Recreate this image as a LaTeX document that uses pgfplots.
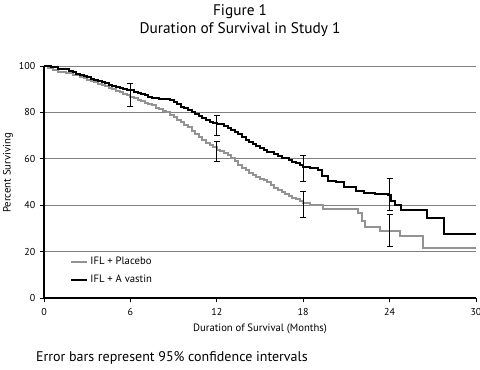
\documentclass[border=0pt]{standalone}
\usepackage{pgfplots}
\pgfplotsset{compat=1.18}
\usepackage{fontspec}
\setmainfont{PT Sans}
\begin{document}
\begin{tikzpicture}
\useasboundingbox (-33pt,-53.25pt) rectangle (327pt,223.5pt);
\begin{axis}[
  at={(0pt,0pt)}, anchor=south west,
  scale only axis, width=324pt, height=174pt,
  xmin=0, xmax=30, ymin=0, ymax=100,
  xtick={0,6,12,18,24,30}, ytick={0,20,40,60,80,100},
  axis lines=left, axis line style={-, line width=0.9pt, black},
  tick align=outside, tick style={black, line width=0.7pt},
  major tick length=3pt,
  ymajorgrids, grid style={gray, line width=0.6pt},
  tick label style={font=\fontsize{7.5}{9}\selectfont},
  xticklabel style={yshift=-1.5pt},
  /pgf/number format/assume math mode=true,
  clip=false,
  legend style={at={(0.05,0.2)}, anchor=north west, draw=none, fill=none,
    font=\fontsize{8}{10}\selectfont, row sep=2pt},
  legend cell align=left,
  legend image code/.code={\draw[#1] (0cm,0cm) -- (0.42cm,0cm);},
]
\addplot[const plot, gray!85, line width=1.5pt] coordinates {
(0,100)(0.3,99.3)(0.6,98.3)(1.0,97.5)(1.5,96.9)(2.0,96.2)(2.5,95.4)(2.75,94.7)(3.0,94)(3.25,93.5)(3.5,93)(3.75,92.4)(4.0,91.8)(4.25,91.2)(4.5,90.5)(4.75,89.9)(5.0,89.2)(5.25,88.6)(5.5,88)(5.75,87.4)(6.0,86.8)(6.25,86.1)(6.5,85.5)(6.75,84.8)(7.0,84.2)(7.25,83.6)(7.5,83)(7.75,82.1)(8.0,81.3)(8.25,80.6)(8.5,80)(8.75,79)(9.0,78)(9.25,76.9)(9.5,75.8)(9.75,74.6)(10.0,73.5)(10.25,72)(10.5,70.5)(10.75,69.2)(11.0,68)(11.25,67)(11.5,66)(11.75,65)(12.0,64)(12.25,63.2)(12.5,62.5)(12.75,61.5)(13.0,60.5)(13.25,59)(13.5,57.5)(13.75,56.2)(14.0,55)(14.25,54)(14.5,53)(14.75,52.2)(15.0,51.5)(15.25,50.7)(15.5,50)(15.75,48.7)(16.0,47.5)(16.25,46.5)(16.5,45.5)(16.75,44.7)(17.0,44)(17.25,43.2)(17.5,42.5)(17.75,41.7)(18.0,41)(18.5,40)(19.4,38.4)(21.8,36.5)(22.1,33)(22.3,30.7)(23.3,29)(24.7,26.7)(26.3,21.4)(30,21.4)};
\addlegendentry{IFL + Placebo}
\addplot[const plot, black, line width=1.5pt] coordinates {
(0,100)(0.5,99.5)(1.0,98.8)(1.5,98.5)(1.75,97.8)(2.0,97.2)(2.25,96.7)(2.5,96.2)(2.75,95.7)(3.0,95.2)(3.25,94.6)(3.5,94)(3.75,93.5)(4.0,93)(4.25,92.5)(4.5,92)(4.75,91.5)(5.0,91)(5.25,90.6)(5.5,90.2)(5.75,89.8)(6.0,89.5)(6.25,89)(6.5,88.5)(6.75,87.9)(7.0,87.3)(7.25,86.7)(7.5,86.2)(8.0,85.6)(8.75,85.5)(9.0,84.6)(9.25,83.5)(9.5,82.5)(9.75,81.7)(10.0,81)(10.25,80.2)(10.5,79.5)(10.75,78.5)(11.0,77.5)(11.25,76.7)(11.5,76)(11.75,75.4)(12.0,74.8)(12.5,74)(12.75,73.2)(13.0,72.5)(13.25,71.5)(13.5,70.5)(13.75,69.2)(14.0,68)(14.25,67.2)(14.5,66.5)(14.75,65.5)(15.0,64.5)(15.25,63.7)(15.5,63)(16.0,62)(16.25,61.2)(16.5,60.5)(17.0,59.5)(17.25,58.7)(17.5,58)(17.75,57.2)(18.0,56.5)(18.5,56)(19.0,55)(19.3,52.5)(19.7,50.5)(20.3,49.8)(20.8,48)(21.7,46.3)(22.2,45.2)(23.0,45)(23.9,44.2)(24.1,42)(24.4,40)(24.8,38)(26.6,34.5)(27.8,27.4)(30,27.4)};
\addlegendentry{IFL + A vastin}
\addplot[draw=none, mark=none, forget plot,
  error bars/.cd, y dir=both, y explicit,
  error bar style={black, line width=0.6pt},
  error mark options={rotate=90, mark size=2.2pt, black, line width=0.6pt}]
  coordinates {
  (6,87.6) +- (0,5.1)
  (12,74.5) +- (0,4.35)
  (18,56) +- (0,5.6)
  (24,44.75) +- (0,6.85)
  (12,63.35) +- (0,4.35)
  (18,40.3) +- (0,5.5)
  (24,29.2) +- (0,6.9)
};
\end{axis}
\node[font=\fontsize{11.5}{13}\selectfont] at (147pt,214.5pt) {Figure 1};
\node[font=\fontsize{11.5}{13}\selectfont] at (147pt,201pt) {Duration of Survival in Study 1};
\node[font=\fontsize{8}{10}\selectfont] at (162pt,-23pt) {Duration of Survival (Months)};
\node[font=\fontsize{8}{10}\selectfont, rotate=90] at (-27pt,93.75pt) {Percent Surviving};
\node[font=\fontsize{10.5}{12}\selectfont, anchor=west] at (-9.5pt,-45pt) {Error bars represent 95\% confidence intervals};
\end{tikzpicture}
\end{document}
